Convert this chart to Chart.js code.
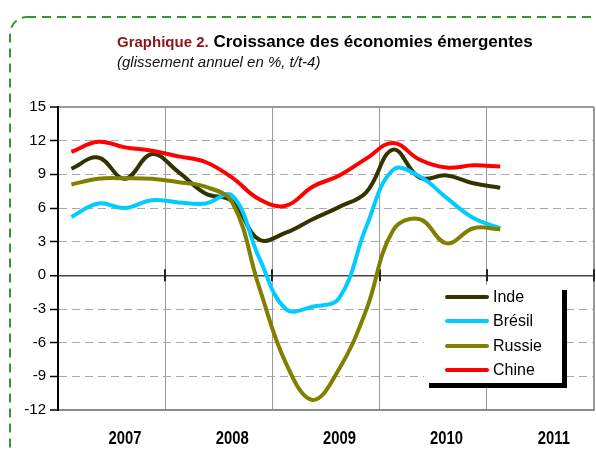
<!DOCTYPE html>
<html>
<head>
<meta charset="utf-8">
<script src="https://cdn.jsdelivr.net/npm/chart.js@4.4.0/dist/chart.umd.min.js"></script>
<style>
html,body{margin:0;padding:0;background:#fff;}
#wrap{position:relative;width:596px;height:450px;overflow:hidden;font-family:"Liberation Sans",Arial,sans-serif;}
#c{position:absolute;left:0;top:0;}
#frame{position:absolute;left:0;top:0;pointer-events:none;}
.t{position:absolute;left:117px;white-space:nowrap;}
#title{top:31.5px;font-weight:bold;color:#000;font-size:17px;line-height:20px;}
#title span{color:#8b1414;font-size:15px;}
#subtitle{top:53px;font-style:italic;color:#111;font-size:15px;line-height:18px;}
#legend{position:absolute;left:424px;top:285px;width:138px;height:98px;background:#fff;box-shadow:5px 5px 0 #000;}
.li{position:absolute;left:0;width:138px;height:20px;}
.ls{position:absolute;left:21px;width:44px;height:4px;top:8px;border-radius:2px;}
.lt{position:absolute;left:69px;top:0;font-size:16px;line-height:20px;color:#000;}
</style>
</head>
<body>
<div id="wrap">
  <canvas id="c" width="596" height="450"></canvas>
  <svg id="frame" width="596" height="450">
    <rect x="10" y="17" width="600" height="445" rx="17" ry="17" fill="none" stroke="#2e9a2e" stroke-width="2" stroke-dasharray="9 6"/>
  </svg>
  <div id="title" class="t"><span>Graphique 2.</span> Croissance des économies émergentes</div>
  <div id="subtitle" class="t">(glissement annuel en %, t/t-4)</div>
  <div id="legend"></div>
</div>
<script>
// ---- data (quarterly, glissement annuel en %) ----
const quarters = ['2007T1','2007T2','2007T3','2007T4','2008T1','2008T2','2008T3','2008T4',
                  '2009T1','2009T2','2009T3','2009T4','2010T1','2010T2','2010T3','2010T4','2011T1'];
const years = ['2007','2008','2009','2010','2011'];
const yTicks = [15, 12, 9, 6, 3, 0, -3, -6, -9, -12];

const inde   = [9.5, 10.5, 8.6, 10.8, 9.2, 7.3, 6.6, 3.2, 3.8, 5.0, 6.1, 7.4, 11.2, 8.7, 8.9, 8.2, 7.8];
const bresil = [5.2, 6.4, 6.0, 6.7, 6.5, 6.4, 7.1, 1.6, -3.0, -2.8, -2.0, 4.3, 9.4, 8.8, 6.9, 5.1, 4.2];
const russie = [8.1, 8.6, 8.65, 8.6, 8.3, 7.9, 6.5, -1.0, -7.8, -11.1, -8.3, -3.1, 4.0, 5.0, 2.85, 4.2, 4.1];
const chine  = [11.0, 11.9, 11.4, 11.1, 10.6, 10.1, 8.7, 6.8, 6.2, 7.9, 8.9, 10.4, 11.8, 10.3, 9.6, 9.8, 9.7];

const seriesNames  = ['Inde', 'Brésil', 'Russie', 'Chine'];
const seriesValues = [inde, bresil, russie, chine];
const seriesColors = ['#333300', '#00ccff', '#808000', '#ff0000'];

// ---- legend (HTML) ----
const leg = document.getElementById('legend');
seriesNames.forEach((n, k) => {
  const row = document.createElement('div');
  row.className = 'li';
  row.style.top = (1.5 + k * 24.6) + 'px';
  row.innerHTML = '<div class="ls" style="background:' + seriesColors[k] + '"></div><div class="lt">' + n + '</div>';
  leg.appendChild(row);
});

// ---- cross ticks on the zero line at year boundaries ----
const crossTicks = {
  id: 'crossTicks',
  beforeDatasetsDraw(chart) {
    const {ctx, scales: {x, y}} = chart;
    const y0 = y.getPixelForValue(0);
    ctx.save();
    ctx.strokeStyle = '#222';
    ctx.lineWidth = 2;
    for (let i = 1; i <= years.length; i++) {
      const px = Math.round(x.getPixelForValue(i * 4));
      ctx.beginPath();
      ctx.moveTo(px, y0 - 6);
      ctx.lineTo(px, y0 + 6);
      ctx.stroke();
    }
    ctx.restore();
  }
};

// ---- year labels (condensed bold, placed through the x scale) ----
const yearLabels = {
  id: 'yearLabels',
  afterDraw(chart) {
    const {ctx, scales: {x}} = chart;
    ctx.save();
    ctx.fillStyle = '#000';
    ctx.font = 'bold 19px "Liberation Sans", Arial, sans-serif';
    ctx.textAlign = 'center';
    ctx.textBaseline = 'alphabetic';
    years.forEach((yy, i) => {
      const px = x.getPixelForValue(i * 4 + 2.5);
      ctx.save();
      ctx.translate(px, 444);
      ctx.scale(0.78, 1);
      ctx.fillText(yy, 0, 0);
      ctx.restore();
    });
    ctx.restore();
  }
};

const yMin = yTicks[yTicks.length - 1], yMax = yTicks[0];

new Chart(document.getElementById('c'), {
  type: 'line',
  data: {
    datasets: seriesNames.map((n, k) => ({
      label: n,
      data: seriesValues[k].map((v, i) => ({x: i + 0.5, y: v})),
      borderColor: seriesColors[k],
      backgroundColor: seriesColors[k],
      borderWidth: 4,
      pointRadius: 0,
      tension: 0.4,
      fill: false,
      order: seriesNames.length - k
    }))
  },
  options: {
    responsive: false,
    animation: false,
    devicePixelRatio: 1,
    layout: {padding: {top: 107, right: 2, left: 0, bottom: 0}},
    plugins: {legend: {display: false}, tooltip: {enabled: false}, title: {display: false}},
    scales: {
      x: {
        type: 'linear',
        position: 'bottom',
        min: 0,
        max: years.length * 4,
        afterBuildTicks: s => { s.ticks = years.map((yy, i) => ({value: i * 4})).concat([{value: years.length * 4}]); },
        ticks: {display: false},
        grid: {
          drawTicks: false,
          color: c => (c.tick && c.tick.value === 0) ? 'rgba(0,0,0,0)' : '#9a9a9a',
          lineWidth: c => (c.tick && c.tick.value === years.length * 4) ? 2 : 1
        },
        border: {color: '#8a8a8a', width: 2},
        afterFit: s => { s.height = 40; }
      },
      y: {
        min: yMin,
        max: yMax,
        afterBuildTicks: s => { s.ticks = yTicks.slice().reverse().map(v => ({value: v})); },
        ticks: {font: {family: '"Liberation Sans", Arial', size: 15}, color: '#000', padding: 4},
        grid: {
          drawTicks: true,
          tickLength: 8,
          tickColor: '#000',
          tickWidth: 1.5,
          color: c => {
            const v = c.tick ? c.tick.value : null;
            if (v === 0) return '#444';
            if (v === yMax || v === yMin) return '#999';
            return '#a8a8a8';
          },
          lineWidth: c => {
            const v = c.tick ? c.tick.value : null;
            if (v === 0) return 1.5;
            if (v === yMax || v === yMin) return 2;
            return 1;
          }
        },
        border: {
          color: '#000',
          width: 2,
          dash: c => {
            const v = c.tick ? c.tick.value : null;
            if (v === null || v === 0 || v === yMax || v === yMin) return [];
            return [8, 5];
          }
        },
        afterFit: s => { s.width = 58; }
      }
    }
  },
  plugins: [crossTicks, yearLabels]
});
</script>
</body>
</html>
